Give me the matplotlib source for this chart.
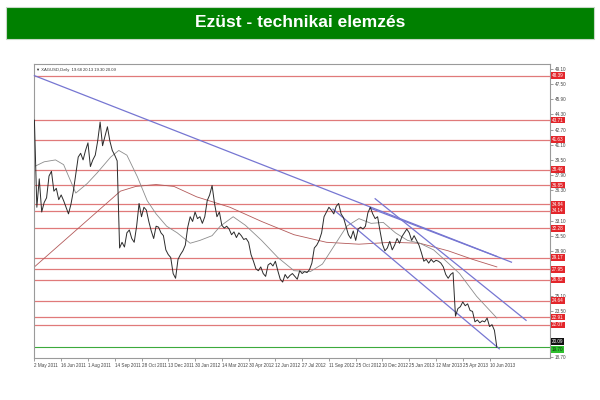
import numpy as np
import matplotlib
matplotlib.use("Agg")
import matplotlib.pyplot as plt
import matplotlib.transforms as mtransforms
from matplotlib.patches import Rectangle

# =========================
# 기본 설정
# =========================
plt.rcParams['font.family'] = ['Liberation Sans', 'DejaVu Sans']

TITLE = "Ezüst - technikai elemzés"
HEADER = "\u25bc XAGUSD,Daily  19.68 20.13 19.30 20.09"
STEP = 3  # 3 bars per value

# =========================
# 데이터 (XAGUSD daily)
# =========================
close = [
    43.7, 34.5, 37.5, 34.0, 35.0, 35.5, 37.8, 38.3, 36.2, 36.5,
    35.3, 35.8, 35.2, 34.5, 33.8, 34.8, 36.2, 38.0, 39.8, 40.2,
    39.5, 40.5, 41.3, 38.8, 39.5, 40.0, 41.5, 43.5, 41.0, 42.0,
    43.0, 41.5, 40.5, 40.0, 39.4, 30.2, 30.8, 30.3, 31.8, 32.1,
    31.2, 30.8, 32.5, 34.9, 33.5, 34.5, 34.2, 33.0, 32.0, 31.2,
    32.5, 32.4, 31.8, 31.5, 30.0, 29.5, 29.2, 27.5, 27.0, 29.0,
    29.5, 29.9, 30.5, 32.4, 33.5, 33.0, 34.0, 33.3, 33.5, 32.8,
    33.5, 35.2, 35.8, 36.8, 34.9, 33.5, 34.0, 32.6, 32.3, 32.5,
    32.2, 31.6, 31.9, 31.3, 31.8, 31.5, 31.1, 31.2, 30.8, 29.5,
    28.8, 28.0, 27.8, 28.2, 27.5, 27.2, 28.4, 28.6, 28.3, 28.8,
    27.8, 26.9, 26.6, 27.4, 27.0, 27.3, 27.5, 27.2, 26.9, 27.8,
    27.5, 27.7, 27.6, 27.9, 28.6, 30.2, 30.5, 31.0, 31.8, 33.5,
    34.0, 34.5, 34.2, 33.8, 34.6, 34.9, 33.8, 33.4, 32.5, 31.6,
    31.2, 32.0, 31.0, 32.2, 32.4, 32.2, 32.5, 33.9, 34.5, 33.8,
    33.3, 33.5, 32.0, 30.6, 29.9, 30.2, 30.9, 30.0, 30.5, 31.2,
    30.7, 31.4, 31.8, 32.2, 31.8, 31.0, 31.5, 31.0, 30.5, 29.7,
    28.8, 29.0, 28.6, 29.0, 28.7, 28.9, 28.8, 28.6, 28.2, 27.4,
    27.0, 27.4, 27.6, 23.0, 23.8, 24.0, 24.5, 24.1, 24.3, 23.6,
    23.5, 22.4, 22.6, 22.3, 22.5, 22.4, 22.8, 21.9, 22.1, 21.5,
    19.7,
]

# moving averages (bar, value)
ma_fast_bar = [0, 12, 26, 36, 44, 51, 65, 77, 94, 104, 114, 127, 139, 150,
               163, 176, 192, 204, 219, 229, 245, 260, 280, 300, 320, 340,
               355, 370, 385, 400, 415, 430, 445, 460, 475, 492, 505, 524,
               545, 570]
ma_fast_val = [38.8, 39.3, 39.5, 39.0, 37.4, 36.0, 37.0, 38.1, 39.8, 40.5,
               40.0, 37.7, 35.2, 33.8, 32.5, 31.8, 30.7, 31.0, 31.5, 32.5,
               33.5, 32.6, 31.0, 29.2, 27.8, 27.7, 28.5, 30.5, 32.5, 33.3,
               32.8, 32.9, 31.8, 31.0, 30.7, 30.0, 29.0, 27.5, 25.1, 22.8]

ma_slow_bar = [0, 106, 125, 150, 172, 200, 241, 280, 320, 360, 400, 440,
               475, 510, 540, 570]
ma_slow_val = [28.2, 36.2, 36.7, 36.9, 36.7, 35.6, 34.5, 33.0, 31.6, 30.8,
               30.6, 30.8, 30.7, 29.9, 29.0, 28.2]

# horizontal support / resistance levels
levels = [48.39, 43.71, 41.63, 38.46, 36.85, 34.84, 34.14, 32.28,
          29.17, 27.95, 26.82, 24.64, 22.91, 22.07]
green_level = 19.70
bid_price = 20.09

# trend lines: (bar0, price0, bar1, price1)
trend_lines = [
    (0, 48.40, 588, 28.70),
    (414, 34.40, 570, 29.30),
    (420, 35.40, 606, 22.56),
    (368, 34.30, 573, 19.55),
]

# axes ticks
price_ticks = [49.10, 47.50, 45.90, 44.30, 42.70, 41.10, 39.50, 37.90,
               36.30, 34.70, 33.10, 31.50, 29.90, 28.30, 26.70, 25.10,
               23.50, 21.90, 20.30, 18.70]
date_bars = [0, 33, 66, 99, 132, 165, 198, 231, 264, 297, 330, 363,
             396, 429, 462, 495, 528, 561]
date_labels = ["2 May 2011", "16 Jun 2011", "1 Aug 2011", "14 Sep 2011",
               "28 Oct 2011", "13 Dec 2011", "30 Jan 2012", "14 Mar 2012",
               "30 Apr 2012", "12 Jun 2012", "27 Jul 2012", "11 Sep 2012",
               "25 Oct 2012", "10 Dec 2012", "25 Jan 2013", "12 Mar 2013",
               "25 Apr 2013", "10 Jun 2013"]

# =========================
# 그림
# =========================
fig = plt.figure(figsize=(6, 4), dpi=100)
fig.patch.set_facecolor("white")

# green banner
fig.patches.append(Rectangle((6 / 600, 1 - 39 / 400), 588 / 600, 32 / 400,
                             transform=fig.transFigure, facecolor="#008000",
                             edgecolor="#c8d8c8", linewidth=0.8))
fig.text(0.5, 1 - 22.5 / 400, TITLE, ha="center", va="center", color="white",
         fontsize=12.5, fontweight="bold",
         family=["Liberation Sans Narrow", "Liberation Sans", "DejaVu Sans"])

ax = fig.add_axes([34 / 600, 42 / 400, 516 / 600, 294 / 400])
ax.set_xlim(-0.5, 635.5)
ax.set_ylim(18.58, 49.63)

# levels
for lv in levels:
    ax.axhline(lv, color="#e07a7a", linewidth=0.9, zorder=1)
ax.axhline(green_level, color="#3caa3c", linewidth=0.8, zorder=1)

# moving averages
ax.plot(ma_slow_bar, ma_slow_val, color="#b35a5a", linewidth=0.6, zorder=2)
ax.plot(ma_fast_bar, ma_fast_val, color="#8c8c8c", linewidth=0.6, zorder=2)

# trend lines
for b0, p0, b1, p1 in trend_lines:
    ax.plot([b0, b1], [p0, p1], color="#7676d2", linewidth=0.9, zorder=3,
            clip_on=False)

# price
bars = np.arange(len(close)) * STEP
ax.plot(bars, close, color="#2b2b2b", linewidth=0.7, zorder=4)

# frame
for s in ax.spines.values():
    s.set_color("#9a9a9a")
    s.set_linewidth(0.8)

# right price axis
ax.yaxis.tick_right()
shown = [t for t in price_ticks
         if min(abs(t - lv) for lv in levels + [bid_price, green_level]) > 0.36]
ax.set_yticks(shown)
ax.set_yticklabels([f"{t:.2f}" for t in shown])
ax.tick_params(axis="y", length=2, width=0.5, color="#777777", pad=1.5,
               labelsize=3.3, labelcolor="#444444")

# date axis
ax.set_xticks(date_bars)
ax.set_xticklabels(date_labels, ha="left")
ax.tick_params(axis="x", length=2, width=0.5, color="#777777", pad=1.5,
               labelsize=3.3, labelcolor="#444444")

# price labels on right
trans = mtransforms.blended_transform_factory(ax.transAxes, ax.transData)
for lv in levels:
    ax.text(1.004, lv, f"{lv:.2f}", transform=trans, ha="left", va="center",
            fontsize=3.3, color="white", clip_on=False, zorder=6,
            bbox=dict(facecolor="#e3262b", edgecolor="none", pad=0.6))
ax.text(1.004, bid_price + 0.25, f"{bid_price:.2f}", transform=trans,
        ha="left", va="center", fontsize=3.3, color="white", clip_on=False,
        zorder=6, bbox=dict(facecolor="#111111", edgecolor="none", pad=0.6))
ax.text(1.004, green_level - 0.2, f"{green_level:.2f}", transform=trans,
        ha="left", va="center", fontsize=3.3, color="#103010", clip_on=False,
        zorder=6, bbox=dict(facecolor="#2ec02e", edgecolor="none", pad=0.6))

# header text
ax.text(0.004, 0.985, HEADER, transform=ax.transAxes, ha="left", va="top",
        fontsize=3.0, color="#333333")

fig.savefig("out.png", dpi=100)
